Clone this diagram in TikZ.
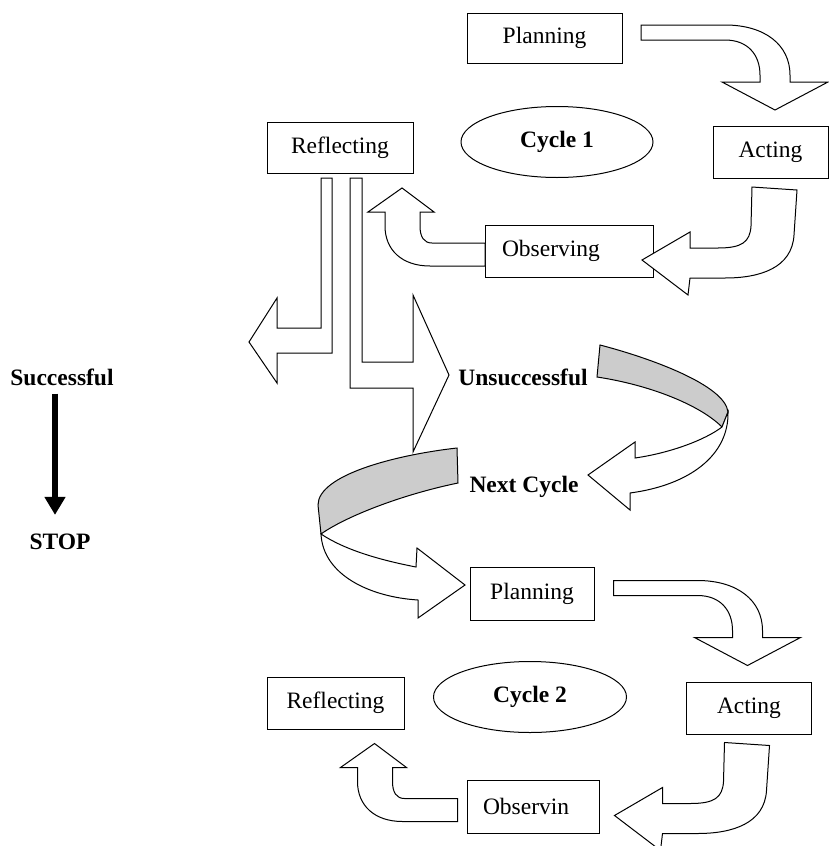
\documentclass[tikz,border=0pt]{standalone}
\usepackage{fontspec}
\setmainfont{Liberation Serif}
\usetikzlibrary{shapes.geometric,arrows.meta}

\begin{document}
\begin{tikzpicture}[x=1pt,y=-1pt]
\tikzstyle{box}=[draw,line width=1pt,inner sep=0pt,font=\fontsize{23.5}{28}\selectfont]
\tikzstyle{cyclenode}=[draw,ellipse,line width=1pt,inner sep=0pt,minimum width=192pt,minimum height=71pt,font=\fontsize{23.5}{28}\selectfont\bfseries]
\tikzstyle{verdict}=[inner sep=0pt,font=\fontsize{23.5}{28}\selectfont\bfseries]
\tikzstyle{blockarrow}=[draw,line width=1pt,fill=white,line join=miter]
\tikzstyle{ribbonback}=[draw,line width=1pt,fill=black!20]
\tikzstyle{stoparrow}=[line width=6pt,-{Triangle[length=18pt,width=20pt]}]
\useasboundingbox (0,0) rectangle (829,846);
% cycle 1
\node[box,minimum width=155pt,minimum height=50pt] (plan1) at (544.5,38) {Planning};
\node[box,minimum width=115pt,minimum height=52pt] (act1) at (770.5,152) {Acting};
\node[box,minimum height=52pt,text width=134pt,inner xsep=17pt,align=left] (obs1) at (569,251) {Observing};
\node[box,minimum width=146pt,minimum height=51pt] (refl1) at (340,147.5) {Reflecting};
\node[cyclenode] (cyc1) at (557,142) {Cycle 1};
% cycle 2
\node[box,minimum width=124pt,minimum height=53pt] (plan2) at (532,593.5) {Planning};
\node[box,minimum width=125pt,minimum height=52pt] (act2) at (749,708) {Acting};
\node[box,minimum height=53pt,text width=100pt,inner xsep=16pt,align=left] (obs2) at (533,806.5) {Observin};
\node[box,minimum width=137pt,minimum height=52pt] (refl2) at (335.5,703) {Reflecting};
\node[cyclenode,minimum width=193pt] (cyc2) at (530,697) {Cycle 2};
% bent arrows, same shapes in both cycles
\foreach \dx/\dy in {0/0,-27.5/555.5}{
\begin{scope}[shift={(\dx,\dy)}]
\draw[blockarrow] (641,25) -- (725,25) .. controls (765,25) and (790,45) .. (790,75) -- (790,82)
  -- (828,82) -- (775,110) -- (722,82) -- (760,82) -- (760,75)
  .. controls (760,55) and (748,40) .. (725,40) -- (641,40) -- cycle;
\draw[blockarrow] (752,187) -- (797,190) -- (794,235) .. controls (792,268) and (760,278) .. (725,278)
  -- (690,278) -- (688,295) -- (642,260) -- (690,232) -- (690,248) -- (718,248)
  .. controls (742,248) and (750,242) .. (751,226) -- cycle;
\draw[blockarrow] (485,243) -- (432,243) .. controls (424,243) and (420,237) .. (420,226) -- (420,212)
  -- (434,212) -- (402,188) -- (368,212) -- (385,212) -- (385,226)
  .. controls (385,250) and (402,266) .. (430,266) -- (485,266) -- cycle;
\end{scope}
}
% split after reflecting
\draw[blockarrow] (321,178) -- (321,328) -- (277,328) -- (277,298) -- (249,342) -- (277,383)
  -- (277,353) -- (332,353) -- (332,178) -- cycle;
\draw[blockarrow] (362,178) -- (362,362) -- (413,362) -- (413,295) -- (449,375) -- (413,452)
  -- (413,388) -- (350,388) -- (350,178) -- cycle;
% ribbons to next cycle
\draw[ribbonback] (600,345) .. controls (650,358) and (725,385) .. (728,412) -- (722,427)
  .. controls (700,405) and (650,385) .. (597,377) -- cycle;
\draw[blockarrow] (728,412) .. controls (729,455) and (690,485) .. (630,493) -- (630,510) -- (588,475)
  -- (635,442) -- (635,458) .. controls (670,453) and (705,440) .. (722,427) -- cycle;
\draw[ribbonback] (457,448) .. controls (395,455) and (318,475) .. (318,505) -- (321,534)
  .. controls (345,517) and (400,495) .. (458,483) -- cycle;
\draw[blockarrow] (321,534) .. controls (323,575) and (370,597) .. (418,600) -- (418,618) -- (465,585)
  -- (417,548) -- (416,567) .. controls (380,560) and (345,550) .. (321,534) -- cycle;
\node[verdict] (unsucc) at (523,377) {Unsuccessful};
\node[verdict] (next) at (524,487) {Next Cycle};
% successful branch
\node[verdict] (succ) at (62,377) {Successful};
\node[verdict] (stop) at (60,542) {STOP};
\draw[stoparrow,shorten <=8pt,shorten >=19pt] ([xshift=-7pt]succ.south) -- ([xshift=-7pt]succ.south |- stop.north);
\end{tikzpicture}
\end{document}
